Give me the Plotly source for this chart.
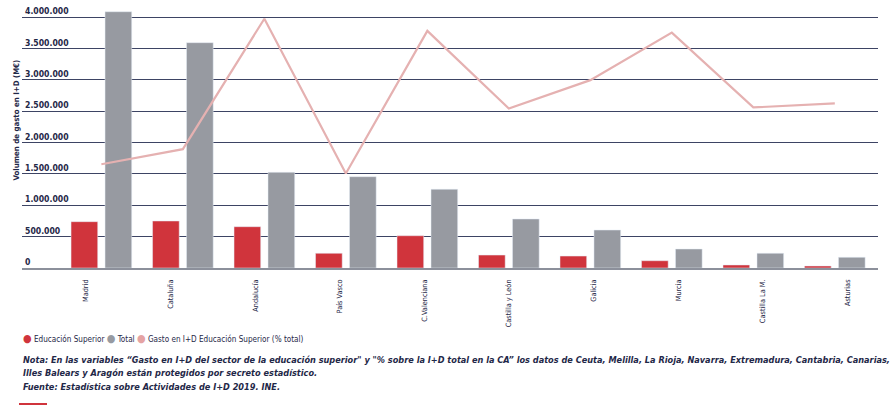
import plotly.graph_objects as go

regiones = ["Madrid", "Cataluña", "Andalucía", "País Vasco", "C.Valenciana",
            "Castilla y León", "Galicia", "Murcia", "Castilla La M.", "Asturias"]
educacion_superior = [739000, 750000, 659000, 235000, 515000,
                      207000, 191000, 116000, 48000, 32000]
total = [4089000, 3595000, 1527000, 1457000, 1256000,
         782000, 606000, 303000, 235000, 171000]
pct_educacion = [17.9, 20.5, 43.0, 16.3, 40.9, 27.5, 32.4, 40.6, 27.7, 28.4]
y_ticks = [0, 500000, 1000000, 1500000, 2000000, 2500000, 3000000, 3500000, 4000000]

ROJO = "#d0343c"
GRIS = "#979aa1"
ROSA = "#e5b1b1"
NAVY = "#1f2848"
FONT = "DejaVu Sans Condensed, Liberation Sans Narrow, Arial Narrow, sans-serif"

# plot area in pixels
L, R, T, B = 22, 878, 0, 268
W, H = R - L, B - T
PX_POR_EURO = 62.675 / 1000000  # px per euro on the left axis
EUROS_POR_PCT = 92500            # line drawn against a hidden % axis


def px_x(p):
    return (p - L) / W


def px_y(p):
    return (B - p) / H


fig = go.Figure()
fig.add_trace(go.Bar(x=regiones, y=educacion_superior, name="Educación Superior",
                     marker_color=ROJO, showlegend=False))
fig.add_trace(go.Bar(x=regiones, y=total, name="Total",
                     marker_color=GRIS, showlegend=False))
fig.add_trace(go.Scatter(x=regiones, y=pct_educacion, yaxis="y2", mode="lines",
                         line=dict(color=ROSA, width=2.2), showlegend=False,
                         name="Gasto en I+D Educación Superior (% total)"))
# carrier for the label axis
fig.add_trace(go.Scatter(x=list(range(len(regiones))), y=[None] * len(regiones),
                         xaxis="x2", showlegend=False, hoverinfo="skip"))

y_max = H / PX_POR_EURO

fig.update_layout(
    width=894, height=412,
    margin=dict(l=L, r=894 - R, t=T, b=412 - B),
    paper_bgcolor="white", plot_bgcolor="white",
    separators=",.",
    barmode="group", bargap=0.166, bargroupgap=0.215,
    font=dict(family=FONT, color=NAVY),
    xaxis=dict(type="category", range=[-0.974, 9.53], showticklabels=False,
               showgrid=False, showline=True, linecolor="#8c909b", linewidth=2,
               ticks="", automargin=False),
    xaxis2=dict(overlaying="x", anchor="y", side="bottom",
                range=[-0.7565, 9.362],
                tickvals=list(range(len(regiones))), ticktext=regiones,
                tickangle=-90, tickfont=dict(size=7.3, color=NAVY),
                showgrid=False, zeroline=False, showline=False, ticks="",
                ticklabelstandoff=9, automargin=False),
    yaxis=dict(range=[0, y_max], tickvals=y_ticks, tickformat=",d",
               ticklabelposition="inside top", showgrid=True,
               gridcolor="#3d4464", gridwidth=1, zeroline=False, showline=False,
               tickfont=dict(size=8.6, color=NAVY, weight="bold"),
               automargin=False),
    yaxis2=dict(overlaying="y", range=[0, y_max / EUROS_POR_PCT],
                visible=False, automargin=False),
)

fig.add_annotation(
    text="Volumen de gasto en I+D (M€)", textangle=-90,
    xref="paper", yref="paper", x=px_x(10), y=px_y(120),
    showarrow=False, font=dict(size=7.8, color=NAVY, weight="bold"))

leyenda = (f'<span style="color:{ROJO};font-size:11px">●</span> Educación Superior '
           f'<span style="color:{GRIS};font-size:11px">●</span> Total '
           f'<span style="color:#e5a3a3;font-size:11px">●</span> '
           f'Gasto en I+D Educación Superior (% total)')
fig.add_annotation(text=leyenda, xref="paper", yref="paper",
                   x=px_x(21), y=px_y(338), xanchor="left", yanchor="middle",
                   showarrow=False, font=dict(size=8.1, color=NAVY))

notas = [
    "Nota: En las variables “Gasto en I+D del sector de la educación superior\" y \"% sobre la I+D "
    "total en la CA” los datos de Ceuta, Melilla, La Rioja, Navarra, Extremadura, Cantabria, Canarias,",
    "Illes Balears y Aragón están protegidos por secreto estadístico.",
    "Fuente: Estadística sobre Actividades de I+D 2019. INE.",
]
for i, linea in enumerate(notas):
    fig.add_annotation(text=f"<b><i>{linea}</i></b>", xref="paper", yref="paper",
                       x=px_x(21), y=px_y(360 + 13.3 * i), xanchor="left",
                       yanchor="middle", showarrow=False,
                       font=dict(size=9.1, color=NAVY))

fig.add_shape(type="line", xref="paper", yref="paper",
              x0=px_x(19), x1=px_x(47), y0=px_y(404), y1=px_y(404),
              line=dict(color=ROJO, width=2))

fig.write_html("out.html", config={"displayModeBar": False},
               post_script="document.body.style.margin='0px';")
